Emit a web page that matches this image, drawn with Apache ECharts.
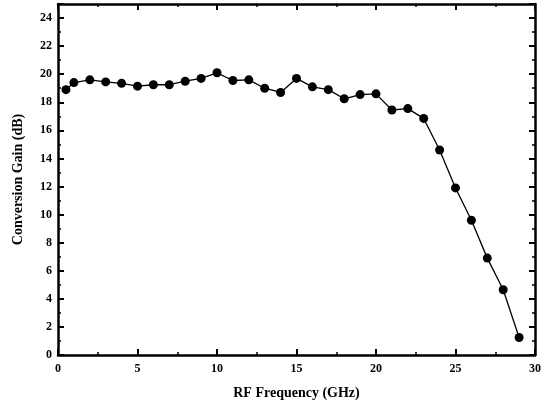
<!DOCTYPE html>
<html><head><meta charset="utf-8">
<script src="https://cdn.jsdelivr.net/npm/echarts@6/dist/echarts.min.js"></script>
<style>html,body{margin:0;padding:0;background:#fff}#c{width:544px;height:409px}</style>
</head><body><div id="c"></div>
<script>
var freq = [0.5,1,2,3,4,5,6,7,8,9,10,11,12,13,14,15,16,17,18,19,20,21,22,23,24,25,26,27,28,29];
var gain = [18.9,19.4,19.6,19.45,19.35,19.15,19.25,19.25,19.5,19.7,20.1,19.55,19.6,19.0,18.7,19.7,19.1,18.9,18.25,18.55,18.6,17.45,17.55,16.85,14.6,11.9,9.6,6.9,4.65,1.25];
var xTitle = 'RF Frequency (GHz)';
var yTitle = 'Conversion Gain (dB)';
var font = '"Liberation Serif", "DejaVu Serif", serif';
var axisCommon = {
  axisLine:{show:true,onZero:false,lineStyle:{color:'#000',width:2.5}},
  axisTick:{show:true,inside:true,length:6,lineStyle:{color:'#000',width:2}},
  minorTick:{show:true,splitNumber:2,length:3,lineStyle:{color:'#000',width:1.5}},
  splitLine:{show:false}
};
var data = freq.map(function(f,i){return [f,gain[i]];});
var chart = echarts.init(document.getElementById('c'));
chart.setOption({
  animation:false,
  grid:{left:58,right:9,top:4,bottom:54},
  xAxis:[
    Object.assign({type:'value',min:0,max:30,interval:5,position:'bottom',
      name:xTitle,nameLocation:'middle',nameGap:31,
      nameTextStyle:{fontFamily:font,fontWeight:'bold',fontSize:14,color:'#000'},
      axisLabel:{fontFamily:font,fontSize:12,fontWeight:'bold',color:'#000',margin:8}},axisCommon),
    Object.assign({type:'value',min:0,max:30,interval:5,position:'top',axisLabel:{show:false}},axisCommon)
  ],
  yAxis:[
    Object.assign({type:'value',min:0,max:25,interval:2,position:'left',
      name:yTitle,nameLocation:'middle',nameGap:33,
      nameTextStyle:{fontFamily:font,fontWeight:'bold',fontSize:14,color:'#000'},
      axisLabel:{fontFamily:font,fontSize:12,fontWeight:'bold',color:'#000',margin:6,
        formatter:function(v){return v%2===0 && v<=24 ? v : '';}}},axisCommon),
    Object.assign({type:'value',min:0,max:25,interval:2,position:'right',axisLabel:{show:false}},axisCommon)
  ],
  series:[{type:'line',data:data,symbol:'circle',symbolSize:9,
    itemStyle:{color:'#000'},lineStyle:{color:'#000',width:1.3}}]
});
</script></body></html>
